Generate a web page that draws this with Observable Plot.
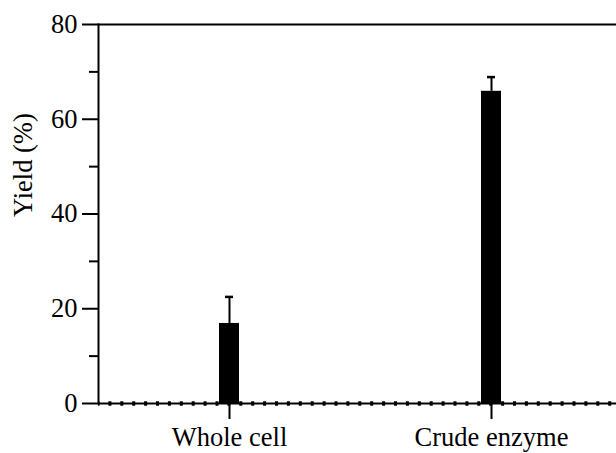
<!DOCTYPE html>
<html>
<head>
<meta charset="utf-8">
<script src="https://cdn.jsdelivr.net/npm/d3@7"></script>
<script src="https://cdn.jsdelivr.net/npm/@observablehq/plot@0.6"></script>
<style>
  html, body { margin: 0; padding: 0; background: #fff; overflow: hidden; }
</style>
</head>
<body>
<div id="chart"></div>
<script>
// Yield of the two catalyst preparations (mean + SD)
const categories = ["Whole cell", "Crude enzyme"];
const yields = [16.9, 65.9];
const errors = [5.6, 3.0];
const majorTicks = [0, 20, 40, 60, 80];
const minorTicks = [10, 30, 50, 70];
const yLabel = "Yield (%)";

const rows = categories.map((c, i) => ({category: c, yield: yields[i], error: errors[i]}));
const font = "Liberation Serif";

const chart = Plot.plot({
  width: 616,
  height: 453,
  marginLeft: 98,
  marginTop: 24,
  marginBottom: 50,
  marginRight: 0,
  style: {fontFamily: font, fontSize: "26.5px", color: "#000", background: "#fff", overflow: "hidden"},
  x: {type: "band", domain: categories, range: [97.5, 621.5], padding: 0},
  y: {domain: [0, 80]},
  marks: [
    // bars
    Plot.barY(rows, {x: "category", y: "yield", fill: "#000", insetLeft: 121, insetRight: 121}),
    // upper error whiskers with caps
    Plot.ruleX(rows, {x: "category", y1: "yield", y2: d => d.yield + d.error, stroke: "#000", strokeWidth: 2}),
    Plot.tickY(rows, {x: "category", y: d => d.yield + d.error, stroke: "#000", strokeWidth: 2.5, insetLeft: 127, insetRight: 127}),
    // top border and baseline
    Plot.ruleY([80], {stroke: "#000", strokeWidth: 2}),
    Plot.ruleY([0], {stroke: "#000", strokeWidth: 2}),
    Plot.ruleY([0], {stroke: "#000", strokeWidth: 4.5, strokeDasharray: "3,8.9", strokeDashoffset: 1.5}),
    // left axis line
    Plot.frame({anchor: "left", stroke: "#000", strokeWidth: 2}),
    // axes
    Plot.axisY(majorTicks, {tickSize: 16, tickPadding: 5, strokeWidth: 2, label: null, fontSize: 26.5, fontFamily: font}),
    Plot.axisY(minorTicks, {tickSize: 9, text: null, strokeWidth: 2, label: null}),
    Plot.axisX({tickSize: 16, tickPadding: 7.5, strokeWidth: 2, label: null, fontSize: 26.5, fontFamily: font}),
    // y-axis title
    Plot.text([yLabel], {frameAnchor: "left", rotate: -90, dx: -75, dy: 3, fontSize: 26.5, fontFamily: font, fill: "#000"})
  ]
});

document.getElementById("chart").appendChild(chart);
</script>
</body>
</html>
